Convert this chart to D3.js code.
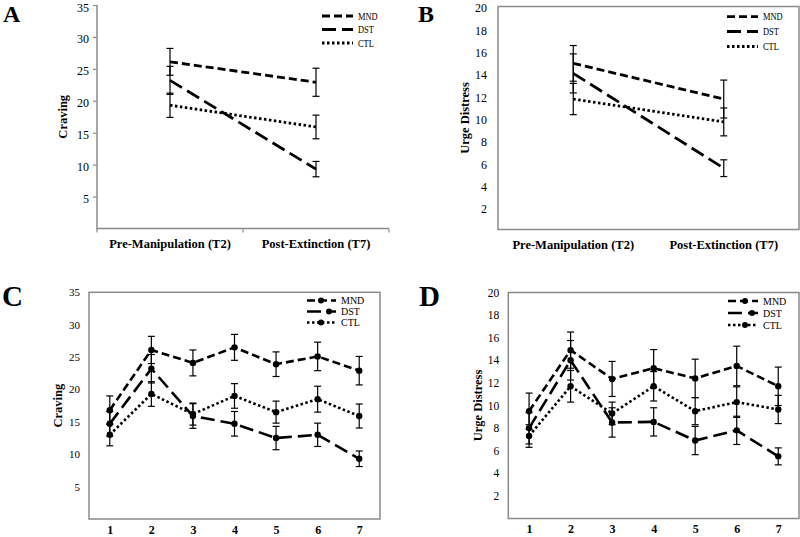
<!DOCTYPE html>
<html>
<head>
<meta charset="utf-8">
<script src="https://cdn.jsdelivr.net/npm/d3@7/dist/d3.min.js"></script>
<style>
  body { margin: 0; background: #fff; }
  svg { display: block; }
  text { font-family: "Liberation Serif", "Times New Roman", Times, serif; fill: #000; }
</style>
</head>
<body>
<svg id="chart" width="800" height="537"></svg>
<script>
// groups and x categories
var groups = ["MND", "DST", "CTL"];
var sessions = ["1", "2", "3", "4", "5", "6", "7"];
var phases = ["Pre-Manipulation (T2)", "Post-Extinction (T7)"];
var phaseIndex = [1, 6]; // T2 and T7 are sessions 2 and 7

// craving means and error bars, sessions 1-7
var cravingMND = [16.8, 26.1, 24.1, 26.5, 23.9, 25.1, 22.9];
var cravingDST = [14.7, 23.2, 15.9, 14.7, 12.5, 13.0, 9.3];
var cravingCTL = [13.0, 19.3, 16.2, 19.0, 16.5, 18.5, 15.9];
var cravingMNDErr = [2.2, 2.1, 2.0, 2.0, 1.9, 2.2, 2.2];
var cravingDSTErr = [1.9, 2.2, 1.9, 1.9, 1.8, 1.8, 1.2];
var cravingCTLErr = [1.7, 1.9, 1.7, 1.9, 1.7, 2.0, 1.85];

// urge distress means and error bars, sessions 1-7
var distressMND = [9.5, 14.9, 12.35, 13.3, 12.4, 13.5, 11.7];
var distressDST = [8.0, 14.0, 8.5, 8.55, 6.9, 7.8, 5.5];
var distressCTL = [7.3, 11.7, 9.3, 11.7, 9.5, 10.3, 9.65];
var distressMNDErr = [1.6, 1.6, 1.55, 1.65, 1.7, 1.75, 1.7];
var distressDSTErr = [1.4, 1.75, 1.3, 1.25, 1.25, 1.25, 0.75];
var distressCTLErr = [1.0, 1.4, 1.0, 1.3, 1.2, 1.35, 1.25];

var cravingTicks = [5, 10, 15, 20, 25, 30, 35];
var distressTicks = [2, 4, 6, 8, 10, 12, 14, 16, 18, 20];

var dash = { MND: "8,4", DST: "14,6", CTL: "2.5,2.5" };
var frameColor = "#8a8a8a";
var serif = "'Liberation Serif', 'Times New Roman', serif";

var svg = d3.select("#chart");

function pick(arr) {
    return phaseIndex.map(function(i){ return arr[i]; });
}

function drawPanel(p) {
    var g = svg.append("g");
    var y = d3.scaleLinear().domain([0, p.yMax]).range([p.y0, p.y1]);
    var x, cx;
    if (p.band) {
        x = d3.scaleBand().domain(p.cats).range([p.x0, p.x1]);
        cx = function(c){ return x(c) + x.bandwidth() / 2; };
    } else {
        x = d3.scalePoint().domain(p.cats).range([p.x0, p.x1]).padding(0.5);
        cx = function(c){ return x(c); };
    }

    // frame or axes
    if (p.box) {
        g.append("rect")
            .attr("x", p.x0).attr("y", p.y1)
            .attr("width", p.x1 - p.x0).attr("height", p.y0 - p.y1)
            .attr("fill", "none").attr("stroke", frameColor).attr("stroke-width", 1.5);
    } else {
        g.append("path")
            .attr("d", "M" + p.x0 + "," + p.y1 + "V" + p.y0 + "H" + p.x1)
            .attr("fill", "none").attr("stroke", frameColor).attr("stroke-width", 1.5);
        // category boundary ticks
        var bounds = p.cats.map(function(c){ return x(c); }).concat([p.x1]);
        g.selectAll(".btick").data(bounds).enter().append("line")
            .attr("x1", function(d){ return d; }).attr("x2", function(d){ return d; })
            .attr("y1", p.y0).attr("y2", p.y0 + 4)
            .attr("stroke", frameColor).attr("stroke-width", 1.2);
    }

    // y axis
    var ya = g.append("g").attr("transform", "translate(" + p.x0 + ",0)")
        .call(d3.axisLeft(y).tickValues(p.ticks).tickSize(p.tickSize).tickPadding(p.tickPad));
    ya.attr("font-family", null);
    ya.select(".domain").remove();
    ya.selectAll("line").attr("stroke", frameColor).attr("stroke-width", 1.2);
    ya.selectAll("text").style("font-size", p.tickFont + "px")
        .style("font-family", serif).attr("fill", "#222")
        .attr("dy", p.tickDy);

    // x axis labels
    var xa = g.append("g").attr("transform", "translate(0," + p.y0 + ")")
        .call(d3.axisBottom(x).tickSize(0).tickPadding(p.xPad));
    xa.attr("font-family", null);
    xa.select(".domain").remove();
    xa.selectAll("text").style("font-size", p.xFont + "px").style("font-weight", "bold")
        .style("font-family", serif);

    // y title
    g.append("text")
        .attr("transform", "translate(" + p.titleX + "," + ((p.y0 + p.y1) / 2) + ") rotate(-90)")
        .attr("text-anchor", "middle").attr("dy", "0.35em")
        .style("font-size", "12.5px").style("font-weight", "bold")
        .text(p.title);

    // panel letter
    g.append("text").attr("x", p.letterX).attr("y", p.letterY)
        .style("font-size", p.letterSize + "px").style("font-weight", "bold")
        .text(p.letter);

    var line = d3.line().x(function(d){ return cx(d.c); }).y(function(d){ return y(d.v); });

    groups.forEach(function(name, i) {
        var pts = p.cats.map(function(c, j){ return { c: c, v: p.means[i][j], e: p.errs[i][j] }; });

        // error bars
        var eb = g.append("g").attr("stroke", "#000").attr("stroke-width", 1.2);
        pts.forEach(function(d) {
            var xx = cx(d.c);
            eb.append("line").attr("x1", xx).attr("x2", xx).attr("y1", y(d.v - d.e)).attr("y2", y(d.v + d.e));
            eb.append("line").attr("x1", xx - 3.5).attr("x2", xx + 3.5).attr("y1", y(d.v + d.e)).attr("y2", y(d.v + d.e));
            eb.append("line").attr("x1", xx - 3.5).attr("x2", xx + 3.5).attr("y1", y(d.v - d.e)).attr("y2", y(d.v - d.e));
        });

        g.append("path").datum(pts)
            .attr("d", line)
            .attr("fill", "none").attr("stroke", "#000")
            .attr("stroke-width", p.lineWidth)
            .attr("stroke-dasharray", dash[name]);

        if (p.markers) {
            g.selectAll(".m" + name).data(pts).enter().append("circle")
                .attr("cx", function(d){ return cx(d.c); })
                .attr("cy", function(d){ return y(d.v); })
                .attr("r", 3.2).attr("fill", "#000");
        }

        // legend row
        var ly = p.legend.ys[i];
        g.append("line")
            .attr("x1", p.legend.x1).attr("x2", p.legend.x2).attr("y1", ly).attr("y2", ly)
            .attr("stroke", "#000").attr("stroke-width", p.lineWidth)
            .attr("stroke-dasharray", dash[name]);
        if (p.markers) {
            g.append("circle").attr("cx", p.legend.mx[i]).attr("cy", ly).attr("r", 3).attr("fill", "#000");
        }
        g.append("text")
            .attr("transform", "translate(" + p.legend.tx + "," + ly + ") scale(" + p.legend.sx + ",1)")
            .attr("dy", "0.35em")
            .style("font-size", p.legend.size + "px")
            .text(name);
    });
}

// A: craving, T2 vs T7
drawPanel({
    x0: 97, x1: 389, y0: 228.5, y1: 5, yMax: 35, ticks: cravingTicks,
    tickSize: 4, tickPad: 4, tickFont: 12, tickDy: "0.5em", box: false, band: true,
    cats: phases, xPad: 11, xFont: 12.5,
    means: [pick(cravingMND), pick(cravingDST), pick(cravingCTL)],
    errs: [pick(cravingMNDErr), pick(cravingDSTErr), pick(cravingCTLErr)],
    title: "Craving", titleX: 63, letter: "A", letterX: 3, letterY: 21.5, letterSize: 24,
    lineWidth: 2.8, markers: false,
    legend: { x1: 322, x2: 353, tx: 358, ys: [16, 29.5, 43], size: 10.5, sx: 0.8 }
});

// B: urge distress, T2 vs T7
drawPanel({
    x0: 498, x1: 799, y0: 229.5, y1: 6.5, yMax: 20, ticks: distressTicks,
    tickSize: 0, tickPad: 11, tickFont: 12, tickDy: "0.45em", box: true, band: true,
    cats: phases, xPad: 11, xFont: 12.5,
    means: [pick(distressMND), pick(distressDST), pick(distressCTL)],
    errs: [pick(distressMNDErr), pick(distressDSTErr), pick(distressCTLErr)],
    title: "Urge Distress", titleX: 465, letter: "B", letterX: 418, letterY: 21.5, letterSize: 24,
    lineWidth: 2.8, markers: false,
    legend: { x1: 727, x2: 758, tx: 763, ys: [16.7, 31.5, 46.5], size: 10.5, sx: 0.8 }
});

// C: craving, sessions 1-7
drawPanel({
    x0: 89, x1: 380, y0: 519, y1: 292.3, yMax: 35, ticks: cravingTicks,
    tickSize: 0, tickPad: 9, tickFont: 11, tickDy: "0.32em", box: true, band: false,
    cats: sessions, xPad: 6, xFont: 12,
    means: [cravingMND, cravingDST, cravingCTL],
    errs: [cravingMNDErr, cravingDSTErr, cravingCTLErr],
    title: "Craving", titleX: 58, letter: "C", letterX: 2, letterY: 306, letterSize: 29,
    lineWidth: 2.6, markers: true,
    legend: { x1: 307, x2: 336, mx: [321, 329, 321], tx: 341, ys: [300.5, 311.5, 322.5], size: 10, sx: 1 }
});

// D: urge distress, sessions 1-7
drawPanel({
    x0: 508.3, x1: 799, y0: 518.5, y1: 292.5, yMax: 20, ticks: distressTicks,
    tickSize: 0, tickPad: 9, tickFont: 11.5, tickDy: "0.32em", box: true, band: false,
    cats: sessions, xPad: 6, xFont: 12,
    means: [distressMND, distressDST, distressCTL],
    errs: [distressMNDErr, distressDSTErr, distressCTLErr],
    title: "Urge Distress", titleX: 478, letter: "D", letterX: 419, letterY: 306, letterSize: 29,
    lineWidth: 2.6, markers: true,
    legend: { x1: 728, x2: 758, mx: [745, 752, 745], tx: 763, ys: [301, 313, 325], size: 10, sx: 1 }
});
</script>
</body>
</html>
